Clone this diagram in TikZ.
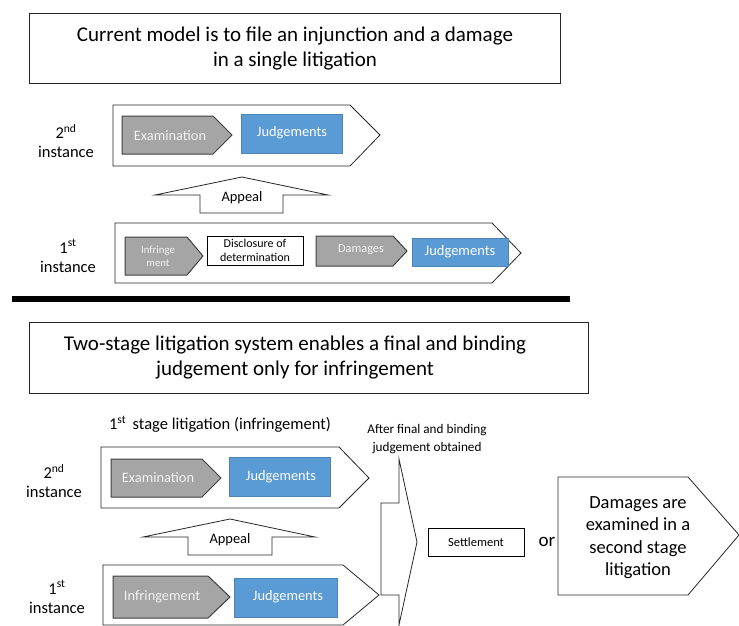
\documentclass[tikz,border=0pt]{standalone}
\usepackage{fontspec}
\setmainfont{Carlito}
\definecolor{chevgray}{HTML}{A5A5A5}
\definecolor{chevline}{HTML}{3F3F3F}
\definecolor{judgeblue}{HTML}{5B9BD5}
\definecolor{chevtext}{HTML}{F2F2F2}
\tikzset{
  frame/.style={draw=black!85, line width=0.8pt, fill=white},
  chev/.style={draw=chevline, line width=1pt, fill=chevgray},
  bluebox/.style={fill=judgeblue, draw=judgeblue!85!black, line width=0.4pt},
  whitebox/.style={draw=black, line width=0.8pt, fill=white},
  fs/.style n args={2}{font=\fontsize{#1}{#2}\selectfont},
  lbl/.style={align=center, inner sep=0pt},
}
\begin{document}
\begin{tikzpicture}[x=1pt,y=-1pt]
\useasboundingbox (0,0) rectangle (739,626);
\fill[white] (0,0) rectangle (739,626);

% ---------- Top section ----------
\draw[frame] (29,13) rectangle (560,83);
\node[lbl, fs={21}{25}] (toptitle) at (295,49) {Current model is to file an injunction and a damage\\in a single litigation};

\node[lbl, fs={16.5}{19}] (t2nd) at (66,141) {2\textsuperscript{nd}\\instance};
\draw[frame] (113,105) -- (350,105) -- (380,135) -- (350,166) -- (113,166) -- cycle;
\draw[chev] (122,116) -- (213,116) -- (232,135) -- (213,154) -- (122,154) -- cycle;
\node[lbl, fs={14.4}{16}, text=chevtext] (texam) at (170,136) {Examination};
\draw[bluebox] (241,114) rectangle (342,153);
\node[lbl, fs={14.4}{16}, text=white] (tjudge1) at (292,133) {Judgements};

\draw[frame] (242,177) -- (328,195) -- (283,195) -- (283,213) -- (200,213) -- (200,195) -- (155,195) -- cycle;
\node[lbl, fs={14.4}{16}] (tappeal1) at (242,198) {Appeal};

\node[lbl, fs={16.5}{19}] (t1st) at (68,256) {1\textsuperscript{st}\\instance};
\draw[frame] (115,223) -- (492,223) -- (521,253) -- (492,283) -- (115,283) -- cycle;
\draw[chev] (125,237) -- (187,237) -- (203,256) -- (187,275) -- (125,275) -- cycle;
\node[lbl, fs={10.8}{13}, text=chevtext] (tinfr1) at (158,256) {Infringe\\ment};
\draw[whitebox] (207,236) rectangle (303,265);
\node[lbl, fs={12}{14}] (tdisc) at (255,250.5) {Disclosure of\\determination};
\draw[chev] (316,236) -- (393,236) -- (407,251) -- (393,266) -- (316,266) -- cycle;
\node[lbl, fs={12.3}{14}, text=chevtext] (tdam) at (361,250) {Damages};
\draw[bluebox] (412,238) rectangle (508,266);
\node[lbl, fs={14.5}{16}, text=white] (tjudge2) at (460,252) {Judgements};

\draw[line width=6pt] (12,299) -- (570,299);

% ---------- Bottom section ----------
\draw[frame] (29,322) rectangle (588,393);
\node[lbl, fs={21}{25}] (bottitle) at (295,357.5) {Two-stage litigation system enables a final and binding\\judgement only for infringement};

\node[lbl, fs={16.5}{19}] (tstage) at (220,424) {1\textsuperscript{st}\, stage litigation (infringement)};

\node[lbl, fs={16.5}{19}] (b2nd) at (54,481) {2\textsuperscript{nd}\\instance};
\draw[frame] (101,447) -- (339,447) -- (369,478) -- (339,508) -- (101,508) -- cycle;
\draw[chev] (111,459) -- (202,459) -- (221,478) -- (202,497) -- (111,497) -- cycle;
\node[lbl, fs={14.4}{16}, text=chevtext] (bexam) at (158,478) {Examination};
\draw[bluebox] (229,457) rectangle (330,496);
\node[lbl, fs={14.4}{16}, text=white] (bjudge1) at (281,477) {Judgements};

\draw[frame] (230,519) -- (315,537) -- (272,537) -- (272,555) -- (188,555) -- (188,537) -- (143,537) -- cycle;
\node[lbl, fs={14.4}{16}] (bappeal) at (230,540) {Appeal};

\node[lbl, fs={16.5}{19}] (b1st) at (57,597) {1\textsuperscript{st}\\instance};
\draw[frame] (103,565) -- (343,565) -- (379,595) -- (343,625) -- (103,625) -- cycle;
\draw[chev] (113,576) -- (208,576) -- (230,597) -- (208,618) -- (113,618) -- cycle;
\node[lbl, fs={14.4}{16}, text=chevtext] (binfr) at (162,597) {Infringement};
\draw[bluebox] (234,578) rectangle (337,617);
\node[lbl, fs={14.4}{16}, text=white] (bjudge2) at (288,597) {Judgements};

\node[lbl, fs={13.2}{18}] (tafter) at (427,439) {After final and binding\\judgement obtained};
\draw[frame] (399,459) -- (417,542) -- (399,625) -- (399,595) -- (381,595) -- (381,503) -- (399,503) -- cycle;

\draw[whitebox] (428,528) rectangle (524,556);
\node[lbl, fs={12.5}{14}] (tsettle) at (476,542) {Settlement};
\node[lbl, fs={19}{21}] (tor) at (547,542) {or};

\draw[frame] (558,477) -- (688,477) -- (739,535) -- (688,595) -- (558,595) -- cycle;
\node[lbl, fs={18.5}{22.5}] (tdamages2) at (638,537.5) {Damages are\\examined in a\\second stage\\litigation};
\end{tikzpicture}
\end{document}
